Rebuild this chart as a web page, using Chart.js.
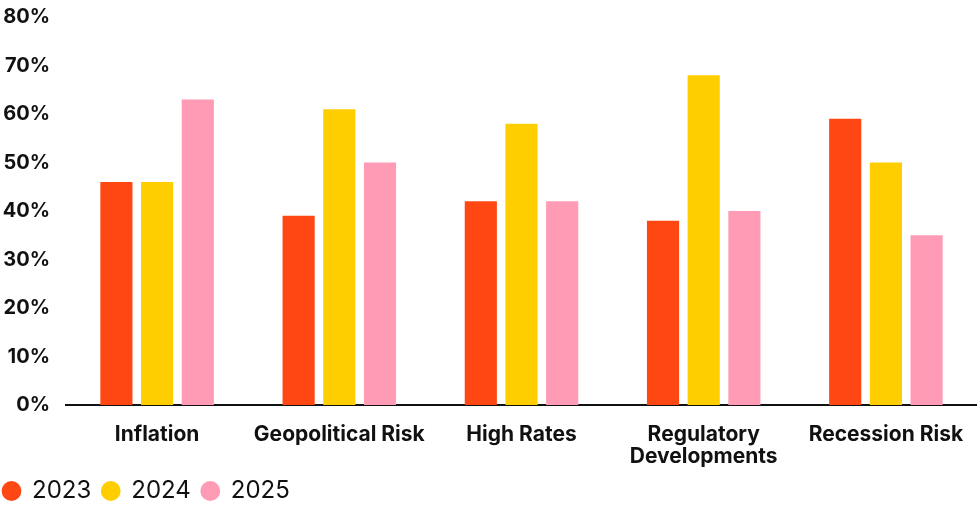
<!DOCTYPE html>
<html>
<head>
<meta charset="utf-8">
<script src="https://cdn.jsdelivr.net/npm/chart.js@4"></script>
<style>
  body { margin: 0; background: #fff; }
</style>
</head>
<body>
<canvas id="riskChart" width="977" height="508"></canvas>
<script>
var categories = ["Inflation", "Geopolitical Risk", "High Rates", ["Regulatory", "Developments"], "Recession Risk"];
var years = ["2023", "2024", "2025"];
var values2023 = [46, 39, 42, 38, 59];
var values2024 = [46, 61, 58, 68, 50];
var values2025 = [63, 50, 42, 40, 35];
var colors = ['#ff4713', '#ffce00', '#ff9bb4'];

var chrt = document.getElementById("riskChart").getContext("2d");
var riskChart = new Chart(chrt, {
    type: 'bar',
    data: {
        labels: categories,
        datasets: [
            { label: years[0], data: values2023, backgroundColor: colors[0] },
            { label: years[1], data: values2024, backgroundColor: colors[1] },
            { label: years[2], data: values2025, backgroundColor: colors[2] }
        ]
    },
    options: {
        responsive: false,
        animation: false,
        categoryPercentage: 0.67,
        barPercentage: 0.79,
        layout: { padding: { top: 17, left: -8, right: 0, bottom: -5 } },
        plugins: {
            tooltip: { enabled: false },
            legend: {
                position: 'bottom',
                align: 'start',
                labels: {
                    usePointStyle: true,
                    pointStyle: 'circle',
                    boxWidth: 17,
                    boxHeight: 14,
                    padding: 11,
                    color: '#111',
                    font: { family: 'Inter', size: 24, weight: 'normal' }
                }
            }
        },
        scales: {
            x: {
                grid: { display: false, drawTicks: false },
                border: { display: true, color: '#111', width: 2 },
                afterFit: function (s) { s.height = 63; s.paddingLeft = 0; s.paddingRight = 0; },
                ticks: {
                    color: '#111',
                    padding: 19,
                    maxRotation: 0,
                    autoSkip: false,
                    font: { family: 'Inter', size: 21, weight: 'bold', lineHeight: 1.05 }
                }
            },
            y: {
                min: 0,
                max: 80,
                grid: { display: false, drawTicks: false },
                border: { display: false },
                afterFit: function (s) { s.width = 74; s.paddingTop = 0; s.paddingBottom = 0; },
                ticks: {
                    stepSize: 10,
                    color: '#111',
                    padding: 16,
                    font: { family: 'Inter', size: 20, weight: 'bold' },
                    callback: function (v) { return v + '%'; }
                }
            }
        }
    }
});
</script>
</body>
</html>
